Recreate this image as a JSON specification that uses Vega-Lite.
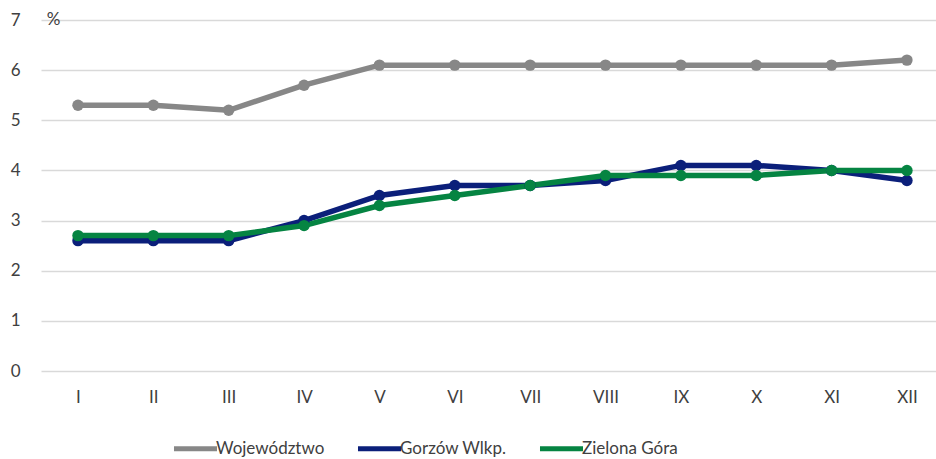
{
  "$schema": "https://vega.github.io/schema/vega-lite/v6.json",
  "width": 895,
  "height": 351,
  "padding": {"left": 41, "top": 20, "right": 0, "bottom": 88},
  "autosize": {"type": "none"},
  "background": "white",
  "config": {
    "view": {"stroke": null},
    "font": "Lato",
    "axis": {"labelFont": "Lato", "labelFontSize": 17, "labelColor": "#404040"},
    "legend": {"labelFont": "Lato", "labelFontSize": 17, "labelColor": "#404040"}
  },
  "data": {
    "values": [
      {"m": "I", "s": "Województwo", "v": 5.3},
      {"m": "II", "s": "Województwo", "v": 5.3},
      {"m": "III", "s": "Województwo", "v": 5.2},
      {"m": "IV", "s": "Województwo", "v": 5.7},
      {"m": "V", "s": "Województwo", "v": 6.1},
      {"m": "VI", "s": "Województwo", "v": 6.1},
      {"m": "VII", "s": "Województwo", "v": 6.1},
      {"m": "VIII", "s": "Województwo", "v": 6.1},
      {"m": "IX", "s": "Województwo", "v": 6.1},
      {"m": "X", "s": "Województwo", "v": 6.1},
      {"m": "XI", "s": "Województwo", "v": 6.1},
      {"m": "XII", "s": "Województwo", "v": 6.2},
      {"m": "I", "s": "Gorzów Wlkp.", "v": 2.6},
      {"m": "II", "s": "Gorzów Wlkp.", "v": 2.6},
      {"m": "III", "s": "Gorzów Wlkp.", "v": 2.6},
      {"m": "IV", "s": "Gorzów Wlkp.", "v": 3.0},
      {"m": "V", "s": "Gorzów Wlkp.", "v": 3.5},
      {"m": "VI", "s": "Gorzów Wlkp.", "v": 3.7},
      {"m": "VII", "s": "Gorzów Wlkp.", "v": 3.7},
      {"m": "VIII", "s": "Gorzów Wlkp.", "v": 3.8},
      {"m": "IX", "s": "Gorzów Wlkp.", "v": 4.1},
      {"m": "X", "s": "Gorzów Wlkp.", "v": 4.1},
      {"m": "XI", "s": "Gorzów Wlkp.", "v": 4.0},
      {"m": "XII", "s": "Gorzów Wlkp.", "v": 3.8},
      {"m": "I", "s": "Zielona Góra", "v": 2.7},
      {"m": "II", "s": "Zielona Góra", "v": 2.7},
      {"m": "III", "s": "Zielona Góra", "v": 2.7},
      {"m": "IV", "s": "Zielona Góra", "v": 2.9},
      {"m": "V", "s": "Zielona Góra", "v": 3.3},
      {"m": "VI", "s": "Zielona Góra", "v": 3.5},
      {"m": "VII", "s": "Zielona Góra", "v": 3.7},
      {"m": "VIII", "s": "Zielona Góra", "v": 3.9},
      {"m": "IX", "s": "Zielona Góra", "v": 3.9},
      {"m": "X", "s": "Zielona Góra", "v": 3.9},
      {"m": "XI", "s": "Zielona Góra", "v": 4.0},
      {"m": "XII", "s": "Zielona Góra", "v": 4.0}
    ]
  },
  "encoding": {
    "x": {
      "field": "m", "type": "ordinal", "sort": null,
      "scale": {"type": "point", "padding": 0.438, "align": 0.56},
      "axis": {"title": null, "labelAngle": 0, "domain": false, "ticks": false, "labelPadding": 18, "grid": false}
    },
    "y": {
      "field": "v", "type": "quantitative",
      "scale": {"domain": [0, 7], "nice": false},
      "axis": {
        "title": "%", "titleAngle": 0, "titleX": 12, "titleY": -1, "titleAlign": "center", "titleBaseline": "middle",
        "titleFont": "Lato", "titleFontSize": 17, "titleFontWeight": "normal", "titleColor": "#404040",
        "values": [0, 1, 2, 3, 4, 5, 6, 7], "domain": false, "ticks": false, "labelPadding": 21,
        "gridColor": "#d9d9d9", "gridWidth": 1.5
      }
    },
    "color": {
      "field": "s", "type": "nominal",
      "scale": {"domain": ["Województwo", "Gorzów Wlkp.", "Zielona Góra"], "range": ["#878787", "#0b1f7a", "#058442"]},
      "legend": {
        "title": null, "orient": "none", "legendX": 130, "legendY": 404, "direction": "horizontal", "symbolType": "stroke",
        "symbolSize": 1850, "symbolStrokeWidth": 5, "labelOffset": -4, "columnPadding": 22
      }
    }
  },
  "mark": {"type": "line", "strokeWidth": 5.5, "point": {"size": 130, "filled": true, "opacity": 1}}
}
